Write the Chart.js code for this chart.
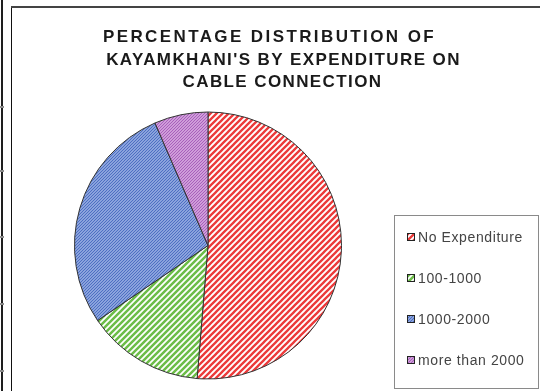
<!DOCTYPE html>
<html lang="en">
<head>
    <meta charset="UTF-8">
    <title>Expenditure on cable connection</title>
    <script src="https://cdn.jsdelivr.net/npm/chart.js"></script>
    <style>
        body { margin: 0; background: #fff; }
        #wrap { width: 540px; height: 391px; }
    </style>
</head>
<body>
<div id="wrap"><canvas id="pieCanvas" width="540" height="391"></canvas></div>

<script>
    // share of households (%) by monthly spend on cable
    const labels = ['No Expenditure', '100-1000', '1000-2000', 'more than 2000'];
    const shares = [51.3, 14.2, 28.0, 6.5];
    const titleLines = ['PERCENTAGE DISTRIBUTION OF', "KAYAMKHANI'S BY EXPENDITURE ON", 'CABLE CONNECTION'];

    // diagonal hatch tile, lines running bottom-left to top-right
    function stripes(bg, fg, size, width) {
        const c = document.createElement('canvas');
        c.width = size;
        c.height = size;
        const g = c.getContext('2d');
        g.fillStyle = bg;
        g.fillRect(0, 0, size, size);
        g.strokeStyle = fg;
        g.lineWidth = width;
        g.beginPath();
        g.moveTo(-1, size + 1); g.lineTo(size + 1, -1);
        g.moveTo(-1, 1); g.lineTo(1, -1);
        g.moveTo(size - 1, size + 1); g.lineTo(size + 1, size - 1);
        g.stroke();
        return g.createPattern(c, 'repeat');
    }

    const fills = [
        stripes('#ffffff', '#ec3a3a', 6, 2.3),
        stripes('#ffffff', '#6cbd48', 6, 2.5),
        stripes('#a9bdea', '#4a6cc0', 3, 1.2),
        stripes('#e2bce8', '#a65cba', 3, 1.2)
    ];

    // frame lines, title and boxed legend
    const decor = {
        id: 'decor',
        beforeDraw(chart) {
            const ctx = chart.ctx;
            ctx.save();
            ctx.fillStyle = '#fff';
            ctx.fillRect(0, 0, chart.width, chart.height);

            // page rule on the left
            ctx.fillStyle = '#1e1e1e';
            ctx.fillRect(1, 0, 2, 391);
            ctx.fillStyle = '#8a8a8a';
            [107, 171, 237, 304, 371].forEach(y => ctx.fillRect(0, y - 1, 4, 2));

            // chart frame
            ctx.fillStyle = '#111';
            ctx.fillRect(11, 7, 1, 391);
            ctx.fillStyle = '#444';
            ctx.fillRect(11, 6, 540, 2);
            ctx.restore();
        },
        afterDraw(chart) {
            const ctx = chart.ctx;
            ctx.save();

            // title
            ctx.fillStyle = '#1a1a1a';
            ctx.font = 'bold 17px "Liberation Sans", Arial, sans-serif';
            ctx.textAlign = 'center';
            ctx.textBaseline = 'alphabetic';
            const baselines = [42, 64.5, 87];
            const centers = [269.5, 283.5, 282.5];
            const spacing = ['2.4px', '1.4px', '1.4px'];
            titleLines.forEach((t, i) => {
                ctx.letterSpacing = spacing[i];
                ctx.fillText(t, centers[i], baselines[i]);
            });

            // legend
            ctx.letterSpacing = '0.6px';
            ctx.strokeStyle = '#8a8a8a';
            ctx.lineWidth = 1;
            ctx.strokeRect(394.5, 215.5, 144, 173);
            ctx.font = '14px "Liberation Sans", Arial, sans-serif';
            ctx.textAlign = 'left';
            ctx.textBaseline = 'middle';
            const rows = [237, 278, 319, 360];
            labels.forEach((lab, i) => {
                const y = rows[i];
                ctx.fillStyle = fills[i];
                ctx.fillRect(407, y - 4, 8, 8);
                ctx.strokeStyle = '#222';
                ctx.strokeRect(407.5, y - 3.5, 7, 7);
                ctx.fillStyle = '#444';
                ctx.fillText(lab, 418, y + 1);
            });
            ctx.restore();
        }
    };

    new Chart(document.getElementById('pieCanvas'), {
        type: 'pie',
        data: {
            labels: labels,
            datasets: [{
                data: shares,
                backgroundColor: fills,
                borderColor: '#333',
                borderWidth: 1
            }]
        },
        options: {
            responsive: false,
            animation: false,
            events: [],
            layout: {
                padding: { left: 74, right: 198, top: 111, bottom: 11 }
            },
            plugins: {
                legend: { display: false },
                title: { display: false },
                tooltip: { enabled: false }
            }
        },
        plugins: [decor]
    });
</script>
</body>
</html>
